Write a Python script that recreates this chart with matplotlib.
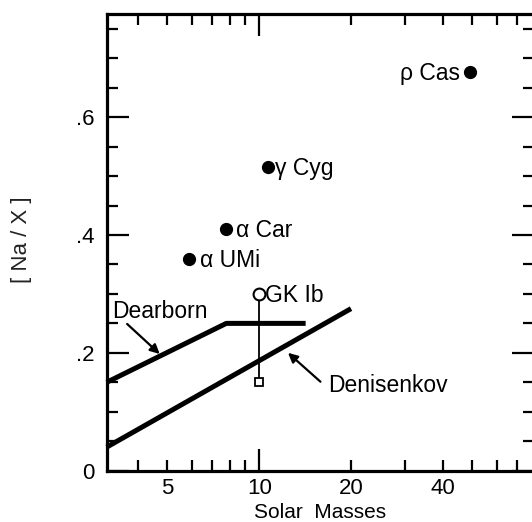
import matplotlib
matplotlib.use("Agg")
import matplotlib.pyplot as plt
from matplotlib.ticker import FixedLocator, FuncFormatter

# ---- data ----
star_names = ["ρ Cas", "γ Cyg", "α Car", "α UMi"]
star_mass = [49.0, 10.7, 7.8, 5.9]
star_na = [0.677, 0.515, 0.41, 0.36]
star_label_side = ["left", "right", "right", "right"]

gk_name = "GK Ib"
gk_mass = [10.0, 10.0]
gk_na = [0.30, 0.15]

dearborn_mass = [3.162, 7.8, 14.2]
dearborn_na = [0.15, 0.25, 0.25]

denisenkov_mass = [3.162, 20.0]
denisenkov_na = [0.04, 0.275]

x_major = [10]
x_minor = [4, 5, 6, 7, 8, 9, 20, 30, 40, 50, 60, 70]
x_labels = {5: "5", 10: "10", 20: "20", 40: "40"}
y_major = [0.0, 0.2, 0.4, 0.6]
y_labels = ["0", ".2", ".4", ".6"]
y_minor = [0.05, 0.1, 0.15, 0.25, 0.3, 0.35, 0.45, 0.5, 0.55, 0.65, 0.7, 0.75]

plt.rcParams["font.family"] = ["Liberation Sans", "DejaVu Sans"]
plt.rcParams["font.size"] = 16

W, H = 532, 522
fig = plt.figure(figsize=(W / 100, H / 100), dpi=100)
ax = fig.add_axes([106.7 / W, (H - 470.7) / H, 427 / W, (470.7 - 14) / H])

ax.set_xscale("log")
ax.set_xlim(10 ** 0.5, 10 ** 1.9)
ax.set_ylim(0, 0.775)

for s in ax.spines.values():
    s.set_linewidth(2.3)

ax.xaxis.set_major_locator(FixedLocator(x_major))
ax.xaxis.set_minor_locator(FixedLocator(x_minor))
fmt = FuncFormatter(lambda v, p: x_labels.get(int(round(v)), ""))
ax.xaxis.set_major_formatter(fmt)
ax.xaxis.set_minor_formatter(fmt)
ax.set_yticks(y_major)
ax.set_yticklabels(y_labels)
ax.yaxis.set_minor_locator(FixedLocator(y_minor))

ax.tick_params(which="both", direction="in", top=True, right=True, width=1.6,
               labelsize=16, colors="black")
ax.tick_params(which="major", length=16)
ax.tick_params(which="minor", length=8)
ax.tick_params(axis="x", which="both", pad=5)
ax.tick_params(axis="y", which="both", pad=9)

# model lines
ax.plot(dearborn_mass, dearborn_na, color="black", lw=3.6, solid_capstyle="butt", clip_on=False)
ax.plot(denisenkov_mass, denisenkov_na, color="black", lw=3.6, solid_capstyle="butt", clip_on=False)

# GK Ib
ax.plot(gk_mass, gk_na, color="black", lw=1.3)
ax.plot(gk_mass[0], gk_na[0], "o", ms=8.5, mfc="white", mec="black", mew=1.5)
ax.plot(gk_mass[1], gk_na[1], "s", ms=6, mfc="white", mec="black", mew=1.3)
ax.annotate(gk_name, (gk_mass[0], gk_na[0]), xytext=(4.5, -5.5), textcoords="offset points",
            ha="left", va="baseline", fontsize=16.5)

# stars
ax.plot(star_mass, star_na, "o", ms=8.5, color="black", ls="none")
offsets = {"ρ Cas": -7.3, "γ Cyg": 4.7, "α Car": 7.2, "α UMi": 7.9}
for n, m, v, side in zip(star_names, star_mass, star_na, star_label_side):
    ax.annotate(n, (m, v), xytext=(offsets[n], -5.8), textcoords="offset points",
                ha="right" if side == "left" else "left", va="baseline", fontsize=16.5)

# labels with arrows
ax.text(3.30, 0.259, "Dearborn", ha="left", va="baseline", fontsize=16.5)
ax.annotate("", xy=(4.72, 0.198), xytext=(3.69, 0.249),
            arrowprops=dict(arrowstyle="-|>", color="black", lw=1.6, mutation_scale=14,
                            shrinkA=0, shrinkB=0))
ax.text(16.8, 0.134, "Denisenkov", ha="left", va="baseline", fontsize=16.5)
ax.annotate("", xy=(12.43, 0.200), xytext=(15.88, 0.151),
            arrowprops=dict(arrowstyle="-|>", color="black", lw=1.6, mutation_scale=14,
                            shrinkA=0, shrinkB=0))

fig.text(21.7 / W, 1 - 240 / H, "[ Na / X ]", rotation=90, ha="center", va="center",
         fontsize=16, color="#222222")
fig.text(320 / W, 0.5 / H, "Solar  Masses", ha="center", va="bottom", fontsize=15)

fig.savefig("out.png", dpi=100)
